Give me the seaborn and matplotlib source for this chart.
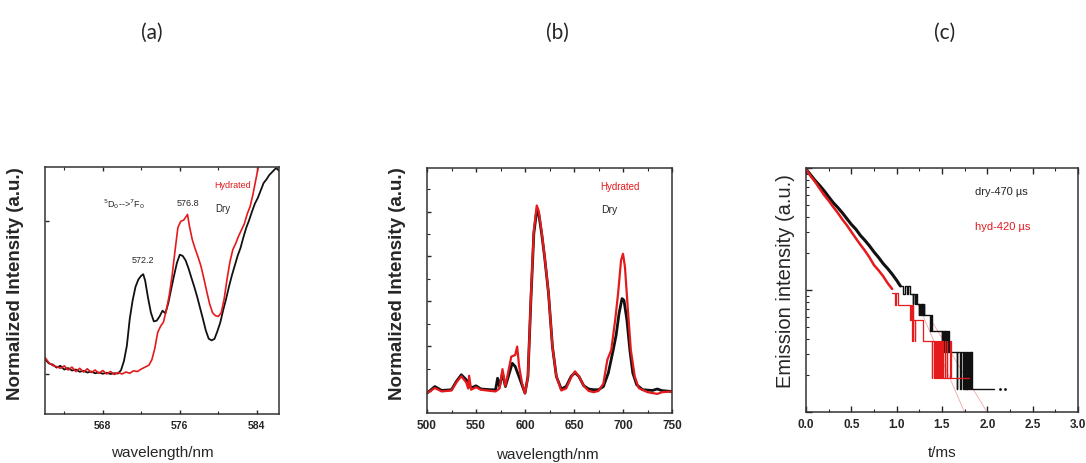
import numpy as np
import matplotlib
matplotlib.use("Agg")
import matplotlib.pyplot as plt
from matplotlib.ticker import MultipleLocator, LogLocator, NullFormatter, FormatStrFormatter
import seaborn as sns

# ---------------- (a) 5D0 -> 7F0 region ----------------
wl_a_dry = [562.0, 562.4, 562.8, 563.2, 563.6, 564.0, 564.4, 564.8, 565.2, 565.6,
            566.0, 566.4, 566.8, 567.2, 567.6, 568.0, 568.4, 568.8, 569.2, 569.6,
            569.9, 570.2, 570.5, 570.8, 571.1, 571.4, 571.7, 572.0, 572.2, 572.4,
            572.7, 573.0, 573.3, 573.6, 573.9, 574.2, 574.5, 574.8, 575.1, 575.4,
            575.7, 576.0, 576.3, 576.6, 576.9, 577.2, 577.5, 577.8, 578.1, 578.4,
            578.7, 579.0, 579.3, 579.6, 579.9, 580.2, 580.5, 580.8, 581.1, 581.4,
            581.7, 582.0, 582.3, 582.6, 582.9, 583.2, 583.5, 583.8, 584.1, 584.4,
            584.7, 585.0, 585.3, 585.6, 586.0, 586.3]
int_a_dry = [0.222, 0.205, 0.200, 0.188, 0.195, 0.180, 0.186, 0.176, 0.180, 0.171,
             0.175, 0.168, 0.172, 0.165, 0.168, 0.163, 0.167, 0.162, 0.165, 0.164,
             0.178, 0.215, 0.276, 0.385, 0.460, 0.515, 0.545, 0.560, 0.566, 0.540,
             0.470, 0.410, 0.375, 0.378, 0.395, 0.418, 0.408, 0.448, 0.505, 0.560,
             0.612, 0.645, 0.640, 0.622, 0.590, 0.552, 0.515, 0.475, 0.430, 0.385,
             0.338, 0.305, 0.298, 0.304, 0.335, 0.370, 0.420, 0.465, 0.515, 0.560,
             0.600, 0.640, 0.672, 0.715, 0.754, 0.785, 0.820, 0.852, 0.875, 0.905,
             0.935, 0.950, 0.968, 0.980, 0.996, 0.985]

wl_a_hyd = [562.0, 562.4, 562.8, 563.2, 563.6, 564.0, 564.4, 564.8, 565.2, 565.6,
            566.0, 566.4, 566.8, 567.2, 567.6, 568.0, 568.4, 568.8, 569.2, 569.6,
            570.0, 570.4, 570.8, 571.2, 571.6, 572.0, 572.4, 572.8, 573.1, 573.4,
            573.7, 574.0, 574.3, 574.6, 574.9, 575.2, 575.5, 575.8, 576.1, 576.4,
            576.8, 577.0, 577.3, 577.6, 577.9, 578.2, 578.5, 578.8, 579.1, 579.4,
            579.7, 580.0, 580.3, 580.6, 580.9, 581.2, 581.5, 581.8, 582.1, 582.4,
            582.7, 583.0, 583.3, 583.6, 583.9, 584.2, 584.5]
int_a_hyd = [0.229, 0.208, 0.196, 0.192, 0.185, 0.195, 0.178, 0.190, 0.172, 0.185,
             0.170, 0.183, 0.168, 0.178, 0.165, 0.176, 0.162, 0.172, 0.160, 0.168,
             0.162, 0.170, 0.165, 0.175, 0.172, 0.182, 0.190, 0.198, 0.220, 0.265,
             0.330, 0.355, 0.372, 0.420, 0.480, 0.560, 0.660, 0.755, 0.780, 0.785,
             0.808, 0.760, 0.705, 0.668, 0.635, 0.598, 0.548, 0.495, 0.445, 0.410,
             0.398, 0.395, 0.410, 0.465, 0.545, 0.615, 0.665, 0.690, 0.720, 0.745,
             0.770, 0.810, 0.840, 0.890, 0.950, 1.010, 1.080]

# ---------------- (b) full emission spectrum ----------------
wl_b_dry = [500, 508, 515, 525, 530, 535, 540, 545, 550, 555, 565, 570, 572, 574,
            577, 580, 583, 587, 590, 595, 600, 603, 606, 609, 612, 614, 617, 620,
            624, 628, 632, 637, 642, 647, 651, 655, 660, 665, 670, 675, 680, 685,
            690, 693, 696, 699, 701, 704, 707, 710, 714, 720, 730, 735, 740, 750]
int_b_dry = [0.081, 0.108, 0.092, 0.095, 0.129, 0.156, 0.136, 0.102, 0.111, 0.098,
             0.095, 0.095, 0.142, 0.108, 0.163, 0.108, 0.149, 0.203, 0.190, 0.136,
             0.081, 0.149, 0.460, 0.732, 0.827, 0.813, 0.732, 0.637, 0.488, 0.271,
             0.149, 0.098, 0.108, 0.149, 0.165, 0.149, 0.111, 0.098, 0.095, 0.095,
             0.108, 0.163, 0.257, 0.318, 0.407, 0.467, 0.460, 0.379, 0.257, 0.163,
             0.115, 0.095, 0.092, 0.098, 0.091, 0.088]

wl_b_hyd = [500, 508, 515, 525, 530, 535, 540, 542, 543, 545, 550, 555, 565, 570,
            574, 577, 580, 583, 586, 590, 592, 594, 597, 600, 603, 606, 609, 612,
            614, 617, 620, 624, 628, 632, 637, 642, 647, 651, 655, 660, 665, 670,
            675, 680, 684, 688, 692, 695, 698, 700, 702, 705, 708, 712, 716, 725,
            735, 740, 750]
int_b_hyd = [0.081, 0.102, 0.088, 0.092, 0.125, 0.150, 0.125, 0.100, 0.152, 0.095,
             0.105, 0.095, 0.090, 0.088, 0.100, 0.179, 0.110, 0.170, 0.230, 0.237,
             0.271, 0.190, 0.122, 0.080, 0.150, 0.470, 0.745, 0.847, 0.825, 0.740,
             0.640, 0.490, 0.270, 0.150, 0.092, 0.100, 0.145, 0.170, 0.150, 0.110,
             0.090, 0.085, 0.090, 0.120, 0.217, 0.257, 0.379, 0.488, 0.623, 0.650,
             0.596, 0.420, 0.257, 0.149, 0.102, 0.085, 0.078, 0.085, 0.088]

# ---------------- (c) luminescence decay ----------------
t_dry = [0.00, 0.05, 0.10, 0.15, 0.20, 0.25, 0.30, 0.35, 0.40, 0.45, 0.50, 0.55,
         0.60, 0.65, 0.70, 0.75, 0.80, 0.85, 0.90, 0.95, 1.00, 1.04]
i_dry = [9.8, 8.8, 7.9, 7.2, 6.5, 5.8, 5.2, 4.75, 4.3, 3.85, 3.45, 3.15,
         2.8, 2.55, 2.3, 2.05, 1.85, 1.65, 1.5, 1.35, 1.2, 1.08]
t_dry_tail = [1.04, 1.07, 1.09, 1.11, 1.13, 1.145, 1.175, 1.185, 1.20, 1.215, 1.225,
              1.245, 1.25, 1.26, 1.265, 1.275, 1.28, 1.29, 1.30, 1.305, 1.37, 1.375,
              1.385, 1.50, 1.505, 1.515, 1.52, 1.53, 1.535, 1.545, 1.55, 1.56, 1.57,
              1.58, 1.66, 1.665, 1.70, 1.71, 1.735, 1.74, 1.75, 1.76, 1.77, 1.775,
              1.78, 1.79, 1.80, 1.805, 1.815, 1.82, 1.83, 2.07]
i_dry_tail = [1.08, 0.92, 1.08, 0.92, 1.08, 0.92, 0.77, 0.92, 0.77, 0.92, 0.77,
              0.62, 0.77, 0.62, 0.77, 0.62, 0.77, 0.62, 0.77, 0.62, 0.46, 0.62,
              0.46, 0.31, 0.46, 0.31, 0.46, 0.31, 0.46, 0.31, 0.46, 0.31, 0.46,
              0.31, 0.154, 0.31, 0.154, 0.31, 0.154, 0.31, 0.154, 0.31, 0.154, 0.31,
              0.154, 0.31, 0.154, 0.31, 0.154, 0.31, 0.154, 0.154]
t_dry_dots = [2.14, 2.19]
i_dry_dots = [0.154, 0.154]

t_hyd = [0.00, 0.05, 0.10, 0.15, 0.20, 0.25, 0.30, 0.35, 0.40, 0.45, 0.50, 0.55,
         0.60, 0.65, 0.70, 0.75, 0.80, 0.85, 0.90, 0.95]
i_hyd = [9.8, 8.6, 7.7, 6.8, 6.0, 5.4, 4.8, 4.3, 3.8, 3.4, 3.0, 2.65,
         2.35, 2.1, 1.85, 1.6, 1.45, 1.3, 1.14, 1.02]
t_hyd_tail = [0.95, 0.98, 0.99, 1.01, 1.15, 1.16, 1.17, 1.175, 1.185, 1.20, 1.205,
              1.29, 1.39, 1.395, 1.41, 1.42, 1.43, 1.44, 1.45, 1.46, 1.47, 1.48,
              1.49, 1.50, 1.51, 1.53, 1.535, 1.55, 1.555, 1.59, 1.595, 1.80]
i_hyd_tail = [0.95, 0.76, 0.95, 0.76, 0.57, 0.76, 0.38, 0.76, 0.57, 0.38, 0.57,
              0.38, 0.19, 0.38, 0.19, 0.38, 0.19, 0.38, 0.19, 0.38, 0.19, 0.38,
              0.19, 0.38, 0.19, 0.38, 0.19, 0.38, 0.19, 0.38, 0.19, 0.19]

# single-exponential fits to the tails
t_fit_hyd = [1.20, 1.75]
i_fit_hyd = [0.88, 0.099]
t_fit_dry = [1.40, 2.00]
i_fit_dry = [0.535, 0.099]

RED = "#e41a1c"
BLACK = "#111111"

sns.set_style("ticks")
plt.rcParams["font.family"] = ["Liberation Sans", "DejaVu Sans"]
plt.rcParams["xtick.direction"] = "in"
plt.rcParams["ytick.direction"] = "in"
plt.rcParams["axes.edgecolor"] = "#333333"
plt.rcParams["axes.linewidth"] = 1.1

fig = plt.figure(figsize=(10.86, 4.64), dpi=100)
W, H = 1086.0, 464.0


def add_axes(left, top, right, bottom):
    return fig.add_axes([left / W, 1 - bottom / H, (right - left) / W, (bottom - top) / H])


ax_a = add_axes(45, 168, 279, 415)
ax_b = add_axes(427, 169, 672, 414)
ax_c = add_axes(806, 169, 1078, 413)

line_kw = dict(estimator=None, sort=False, legend=False)

# ---- panel (a)
sns.lineplot(x=wl_a_dry, y=int_a_dry, ax=ax_a, color=BLACK, lw=1.3, **line_kw)
sns.lineplot(x=wl_a_hyd, y=int_a_hyd, ax=ax_a, color=RED, lw=1.2, **line_kw)
ax_a.set_xlim(562, 586.3)
ax_a.set_ylim(0, 1)
ax_a.xaxis.set_major_locator(MultipleLocator(8))
ax_a.xaxis.set_minor_locator(MultipleLocator(4))
ax_a.yaxis.set_major_locator(MultipleLocator(0.62, offset=0.16))
ax_a.yaxis.set_major_formatter(NullFormatter())
ax_a.tick_params(axis="x", labelsize=7.5, pad=4)
ax_a.tick_params(which="both", top=True)
ax_a.tick_params(which="major", length=3, width=1)
ax_a.tick_params(which="minor", length=2, width=0.8)
for lbl in ax_a.get_xticklabels():
    lbl.set_fontweight("bold")
ax_a.text(570.2, 0.855, r"$^5$D$_0$-->$^7$F$_0$", fontsize=6.5, ha="center", va="center")
ax_a.text(572.2, 0.625, "572.2", fontsize=6.5, ha="center", va="center")
ax_a.text(576.8, 0.855, "576.8", fontsize=6.5, ha="center", va="center")
ax_a.text(579.7, 0.835, "Dry", fontsize=7, ha="left", va="center")
ax_a.text(579.6, 0.93, "Hydrated", fontsize=6.5, ha="left", va="center", color=RED)

# ---- panel (b)
sns.lineplot(x=wl_b_dry, y=int_b_dry, ax=ax_b, color=BLACK, lw=2.0, **line_kw)
sns.lineplot(x=wl_b_hyd, y=int_b_hyd, ax=ax_b, color=RED, lw=1.6, **line_kw)
ax_b.set_xlim(500, 750)
ax_b.set_ylim(0, 1)
ax_b.xaxis.set_major_locator(MultipleLocator(50))
ax_b.xaxis.set_minor_locator(MultipleLocator(25))
ax_b.yaxis.set_major_locator(MultipleLocator(0.183, offset=0.09))
ax_b.yaxis.set_minor_locator(MultipleLocator(0.0915, offset=0.09))
ax_b.yaxis.set_major_formatter(NullFormatter())
ax_b.tick_params(axis="x", labelsize=8.5, pad=4)
ax_b.tick_params(which="both", top=True)
ax_b.tick_params(which="major", length=3, width=1)
ax_b.tick_params(which="minor", length=2, width=0.8)
for lbl in ax_b.get_xticklabels():
    lbl.set_fontweight("bold")
ax_b.text(677, 0.928, "Hydrated", fontsize=7, ha="left", va="center", color=RED)
ax_b.text(678, 0.833, "Dry", fontsize=7.5, ha="left", va="center")

# ---- panel (c)
ax_c.set_yscale("log")
sns.lineplot(x=t_fit_hyd, y=i_fit_hyd, ax=ax_c, color="#f0a8a8", lw=0.6, **line_kw)
sns.lineplot(x=t_fit_dry, y=i_fit_dry, ax=ax_c, color="#f0a8a8", lw=0.6, **line_kw)
sns.lineplot(x=t_dry, y=i_dry, ax=ax_c, color=BLACK, lw=2.2, **line_kw)
sns.lineplot(x=t_dry_tail, y=i_dry_tail, ax=ax_c, color=BLACK, lw=1.0,
             drawstyle="steps-post", **line_kw)
sns.scatterplot(x=t_dry_dots, y=i_dry_dots, ax=ax_c, color=BLACK, s=4, linewidth=0,
                legend=False)
sns.lineplot(x=t_hyd, y=i_hyd, ax=ax_c, color=RED, lw=1.8, **line_kw)
sns.lineplot(x=t_hyd_tail, y=i_hyd_tail, ax=ax_c, color=RED, lw=0.9,
             drawstyle="steps-post", **line_kw)
ax_c.set_xlim(0, 3.0)
ax_c.set_ylim(0.1, 10)
ax_c.xaxis.set_major_locator(MultipleLocator(0.5))
ax_c.xaxis.set_minor_locator(MultipleLocator(0.25))
ax_c.xaxis.set_major_formatter(FormatStrFormatter("%.1f"))
ax_c.yaxis.set_major_locator(LogLocator(base=10))
ax_c.yaxis.set_minor_locator(LogLocator(base=10, subs=np.arange(2, 10)))
ax_c.yaxis.set_major_formatter(NullFormatter())
ax_c.yaxis.set_minor_formatter(NullFormatter())
ax_c.tick_params(axis="x", labelsize=8.5, pad=4)
ax_c.tick_params(which="both", top=True)
ax_c.tick_params(which="major", length=4, width=1)
ax_c.tick_params(which="minor", length=2, width=0.8)
for lbl in ax_c.get_xticklabels():
    lbl.set_fontweight("bold")
ax_c.text(1.86, 6.45, "dry-470 \u00b5s", fontsize=8, ha="left", va="center")
ax_c.text(1.86, 3.33, "hyd-420 \u00b5s", fontsize=8, ha="left", va="center", color=RED)

# ---- axis labels
for ax, ylab, yx, yy, weight, ysize in [
        (ax_a, "Normalized Intensity (a.u.)", -0.125, 0.532, "bold", 13.5),
        (ax_b, "Normalized Intensity (a.u.)", -0.12, 0.533, "bold", 13.5),
        (ax_c, "Emission intensity (a.u.)", -0.077, 0.539, "normal", 14.5)]:
    ax.set_ylabel(ylab, fontsize=ysize, fontweight=weight)
    ax.yaxis.label.set_va("center")
    ax.yaxis.set_label_coords(yx, yy)

for ax, xlab, xx, xy in [(ax_a, "wavelength/nm", 0.5, -0.154),
                         (ax_b, "wavelength/nm", 0.49, -0.167),
                         (ax_c, "t/ms", 0.499, -0.164)]:
    ax.set_xlabel(xlab, fontsize=11)
    ax.xaxis.label.set_va("center")
    ax.xaxis.set_label_coords(xx, xy)

# ---- panel letters
for x, letter in [(152, "(a)"), (557, "(b)"), (945, "(c)")]:
    fig.text(x / W, 1 - 33 / H, letter, fontsize=15, ha="center", va="center",
             family=["Lato", "DejaVu Sans"])

fig.savefig("out.png", dpi=100)
